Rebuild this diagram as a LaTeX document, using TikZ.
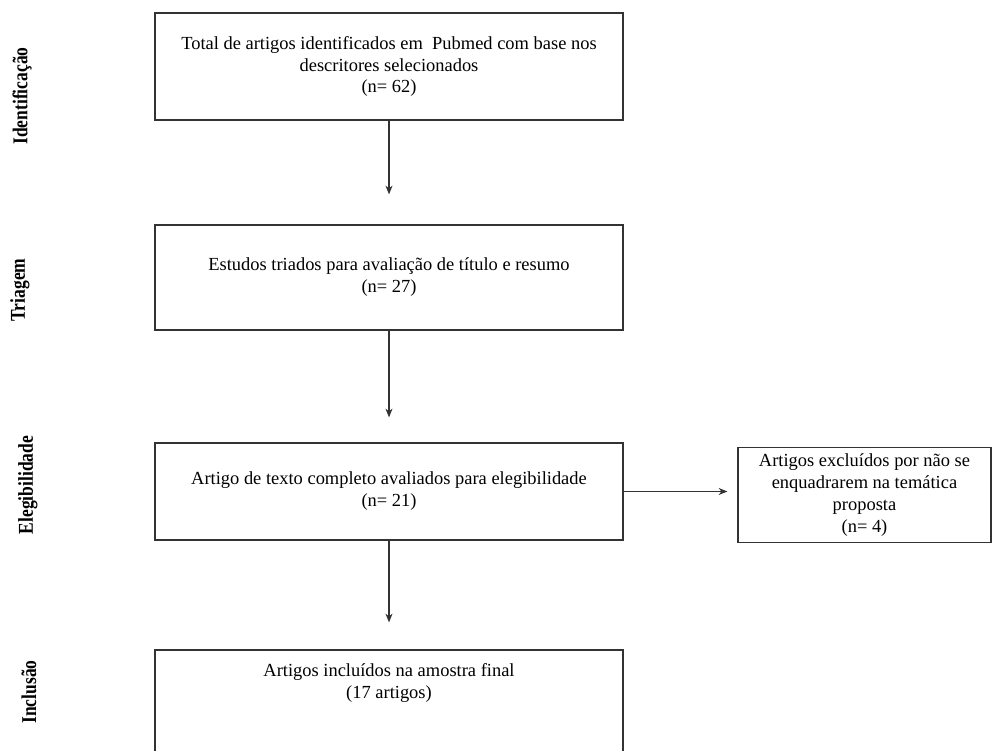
\documentclass[tikz,border=0pt]{standalone}
\usepackage{fontspec}
\setmainfont{Liberation Serif}
\usetikzlibrary{arrows.meta,positioning}
\begin{document}
\begin{tikzpicture}
\tikzstyle{caixa}=[rectangle, draw=black!80, line width=0.7pt, align=center, minimum width=9.36cm, font=\fontsize{10.5}{12.5}\selectfont]
\tikzstyle{seta}=[-{Stealth[length=5pt,width=4pt]}, line width=0.6pt, black!80]
\tikzstyle{fase}=[rotate=90, font=\fontsize{12}{14}\selectfont\bfseries]
\useasboundingbox (0,0) rectangle (19.84,15.02);
\node[caixa, minimum height=2.14cm] (ident) at(7.78,13.69){Total de artigos identificados em\ \ Pubmed com base nos\\descritores selecionados\\(n= 62)};
\node[caixa, minimum height=2.10cm] (triag) at(7.78,9.47){Estudos triados para avaliação de título e resumo\\(n= 27)};
\node[caixa, minimum height=1.94cm] (eleg) at(7.78,5.19){Artigo de texto completo avaliados para elegibilidade\\(n= 21)};
\node[caixa, minimum height=2.30cm] (incl) at(7.78,0.87){};
\node[align=center, font=\fontsize{10.5}{12.5}\selectfont, inner sep=0, below=0.28cm of incl.north] (incltxt){Artigos incluídos na amostra final\\(17 artigos)};
\node[caixa, minimum width=5.06cm, minimum height=1.76cm] (excl) at(17.29,5.12){Artigos excluídos por não se\\enquadrarem na temática\\proposta\\(n= 4)};
\node[fase] (lid) at(0.44,13.10){\scalebox{0.83}[1]{Identificação}};
\node[fase] (ltr) at(0.40,9.22){\scalebox{0.83}[1]{Triagem}};
\node[fase] (lel) at(0.56,5.32){\scalebox{0.83}[1]{Elegibilidade}};
\node[fase] (lin) at(0.58,1.18){\scalebox{0.83}[1]{Inclusão}};
\draw[seta, shorten >=0.6cm](ident)--(triag);
\draw[seta, shorten >=0.5cm](triag)--(eleg);
\draw[seta, shorten >=0.54cm](eleg)--(incl);
\draw[seta, shorten >=0.2cm](eleg.east)--(eleg.east -| excl.west);
\end{tikzpicture}
\end{document}
